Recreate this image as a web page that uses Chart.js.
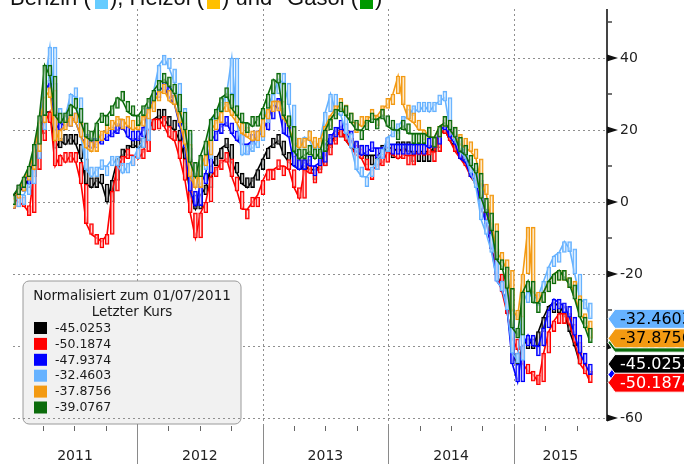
<!DOCTYPE html>
<html><head><meta charset="utf-8">
<script src="https://cdn.jsdelivr.net/npm/chart.js@4.4.1/dist/chart.umd.min.js"></script>
<style>html,body{margin:0;padding:0;background:#fff;overflow:hidden}canvas{display:block}</style>
</head><body>
<canvas id="c" width="684" height="464"></canvas>
<script>
// time axis: months since 1 Jan 2011, roughly every half month (Jan 2011 .. Aug 2015)
const N = 112;
const months = Array.from({length: N}, (_, k) => +(0.2 + k * 0.4965).toFixed(3));

// normalised series, two readings per month
const black = [2,3, 4,7, 12,19, 25,25, 15,17, 16,18, 16,12, 5,4, 6,5, 0,6, 12,13, 15,16,
 15,17, 20,23, 24,23, 21,20, 17,12, 2,-2, 2,4, 10,12, 15,16, 11,8, 5,4, 6,9,
 12,15, 16,17, 13,11, 10,9, 10,9, 9,10, 15,17, 18,20, 17,15, 14,13, 13,13, 13,14,
 15,15, 14,15, 14,14, 14,14, 14,15, 19,20, 17,15, 12,11, 7,5, -2,-5, -13,-20, -24,-30,
 -42,-45, -40,-38, -40,-36, -32,-29, -28,-29, -31,-36, -40,-45.0253];
const red = [1,0, -1,-3, 9,17, 22,25, 10,13, 11,13, 11,5, -6,-9, -10,-11, -9,3, 10,12, 13,13,
 12,14, 20,23, 23,21, 18,17, 12,6, -3,-10, -3,0, 7,9, 11,12, 7,3, -2,-2, 0,2,
 6,9, 9,10, 10,9, 4,1, 9,8, 8,10, 13,16, 18,20, 17,15, 13,12, 9,9, 10,11,
 14,13, 12,13, 13,13, 14,13, 14,14, 19,20, 17,14, 12,10, 7,5, -2,-5, -13,-20, -25,-31,
 -38,-41, -45,-47, -48,-50, -42,-36, -33,-31, -31,-34, -39,-45, -47,-50.1874];
const blue = [1,3, 5,9, 14,22, 31,33, 20,22, 21,24, 22,18, 16,15, 16,17, 18,19, 20,21, 18,17,
 18,20, 26,29, 31,32, 29,27, 21,15, 3,-1, 5,8, 17,19, 21,22, 19,17, 16,16, 17,18,
 20,23, 27,26, 19,18, 10,9, 11,10, 10,11, 16,18, 20,21, 19,17, 14,13, 14,15, 15,15,
 16,16, 16,16, 16,16, 16,16, 15,16, 20,21, 18,16, 12,11, 7,6, -2,-6, -13,-22, -24,-30,
 -45,-50, -40,-37, -40,-40, -35,-30, -27,-28, -29,-32, -37,-42, -45,-47.9374];
const lightBlue = [0,2, 2,5, 12,20, 33,43, 26,22, 24,30, 29,18, 9,7, 9,10, 10,12, 10,8, 10,12,
 15,17, 26,31, 38,40, 37,33, 26,19, 8,4, 9,12, 22,25, 27,30, 40,22, 13,14, 15,17,
 22,27, 30,34, 33,27, 17,15, 18,17, 14,17, 25,30, 25,24, 19,15, 9,7, 7,9, 12,14,
 18,19, 21,23, 24,26, 25,27, 25,27, 28,29, 20,17, 14,12, 8,4, -5,-9, -14,-22, -24,-30,
 -42,-44, -28,-25, -27,-26, -22,-18, -15,-14, -11,-13, -20,-27, -28,-32.4603];
const orange = [1,3, 6,9, 14,22, 29,31, 17,20, 21,24, 22,18, 15,14, 17,19, 20,21, 23,23, 21,20,
 21,23, 25,28, 30,31, 28,27, 22,16, 7,4, 10,13, 20,22, 25,27, 24,22, 19,18, 17,18,
 23,25, 28,28, 23,21, 16,15, 17,18, 15,17, 21,24, 26,27, 24,22, 22,21, 23,24, 24,26,
 27,30, 35,27, 23,22, 20,20, 18,18, 21,22, 20,18, 16,15, 14,12, 5,2, -6,-14, -16,-19,
 -30,-32, -20,-7, -25,-27, -25,-22, -20,-19, -21,-22, -26,-31, -33,-37.8756];
const green = [2,4, 7,10, 16,24, 38,35, 24,22, 24,27, 26,22, 18,17, 22,24, 24,26, 29,28, 25,24,
 24,26, 28,31, 33,34, 32,30, 25,20, 11,7, 13,17, 23,25, 29,30, 26,24, 22,22, 21,23,
 26,30, 34,33, 24,21, 14,12, 13,14, 12,14, 20,23, 25,26, 24,22, 20,20, 22,23, 23,24,
 21,20, 20,21, 19,19, 19,19, 18,18, 21,22, 20,18, 14,13, 10,8, 1,-3, -8,-16, -18,-24,
 -35,-37, -25,-22, -28,-28, -25,-22, -20,-19, -21,-23, -27,-32, -35,-39.0767];

// axis ticks / labels
const yMajor = [40, 20, 0, -20, -40, -60];
const yMinor = [50, 30, 10, -10, -30, -50];
const yearStarts = [12, 24, 36, 48];
const yearNames = ['2011', '2012', '2013', '2014', '2015'];
const quarterTicks = [3, 6, 9, 15, 18, 21, 27, 30, 33, 39, 42, 45, 51, 54];
const legendTitle = ['Normalisiert zum 01/07/2011', 'Letzter Kurs'];

const seriesDefs = [
  {values: black, color: '#000000', tagText: '#ffffff', order: 6},
  {values: red, color: '#ff0000', tagText: '#ffffff', order: 5},
  {values: blue, color: '#0000ff', tagText: '#ffffff', order: 4},
  {values: lightBlue, color: '#66b2ff', tagText: '#000000', order: 3},
  {values: orange, color: '#f39a12', tagText: '#000000', order: 2},
  {values: green, color: '#0b6b0b', tagText: '#ffffff', order: 1}
];

const barSets = seriesDefs.map(s => ({
  type: 'bar',
  label: s.values[s.values.length - 1].toFixed(4),
  data: s.values.map((v, i) => ({x: months[i], y: [i ? s.values[i - 1] : v, v]})),
  backgroundColor: 'rgba(255,255,255,0.45)',
  borderColor: s.color,
  borderWidth: 1.3,
  borderSkipped: false,
  barThickness: 4,
  maxBarThickness: 4,
  minBarLength: 10,
  grouped: false,
  order: s.order
}));
const lineSets = seriesDefs.map(s => ({
  type: 'line',
  label: '',
  data: s.values.map((v, i) => ({x: months[i], y: v})),
  borderColor: s.color,
  borderWidth: 1.6,
  pointRadius: 0,
  tension: 0,
  fill: false,
  order: s.order
}));

function line(ctx, x1, y1, x2, y2) { ctx.beginPath(); ctx.moveTo(x1, y1); ctx.lineTo(x2, y2); ctx.stroke(); }

const chrome = {
  id: 'chrome',
  beforeDatasetsDraw(chart) {
    const {ctx, chartArea: a, scales: {x, y}} = chart;
    ctx.save();
    ctx.strokeStyle = '#8f8f8f'; ctx.lineWidth = 1; ctx.setLineDash([2, 3]);
    yMajor.forEach(v => { const p = Math.round(y.getPixelForValue(v)) + 0.5; line(ctx, a.left, p, a.right, p); });
    yearStarts.forEach(m => { const p = Math.round(x.getPixelForValue(m)) + 0.5; line(ctx, p, a.top, p, a.bottom); });
    ctx.restore();
  },
  afterDraw(chart) {
    const {ctx, chartArea: a, scales: {x, y}} = chart;
    ctx.save();
    // legend box
    const lx = 23, ly = 281, lw = 218, lh = 143;
    ctx.beginPath(); ctx.roundRect(lx, ly, lw, lh, 6);
    ctx.fillStyle = '#f1f1f1'; ctx.fill();
    ctx.strokeStyle = '#9a9a9a'; ctx.lineWidth = 1; ctx.stroke();
    ctx.fillStyle = '#1a1a1a'; ctx.font = '13.5px "DejaVu Sans"'; ctx.textAlign = 'center'; ctx.textBaseline = 'middle';
    ctx.fillText(legendTitle[0], 132, 296);
    ctx.fillText(legendTitle[1], 132, 312);
    ctx.textAlign = 'left'; ctx.font = '12.5px "DejaVu Sans"';
    seriesDefs.forEach((s, i) => {
      const cy = 328 + i * 15.9;
      ctx.fillStyle = s.color; ctx.fillRect(34, cy - 6, 13, 12);
      ctx.fillStyle = '#1a1a1a'; ctx.fillText(barSets[i].label, 55, cy + 0.5);
    });
    // bottom gridline drawn over the legend
    ctx.strokeStyle = '#8f8f8f'; ctx.setLineDash([2, 3]);
    { const p = Math.round(y.getPixelForValue(-60)) + 0.5; line(ctx, a.left, p, a.right, p); }
    ctx.setLineDash([]);
    // right axis
    ctx.strokeStyle = '#444'; ctx.lineWidth = 2;
    line(ctx, a.right, a.top, a.right, a.bottom - 3);
    ctx.lineWidth = 1.5;
    yMinor.forEach(v => { const p = y.getPixelForValue(v); line(ctx, a.right, p, a.right + 5, p); });
    ctx.font = '14px "DejaVu Sans"'; ctx.textBaseline = 'middle'; ctx.textAlign = 'left';
    yMajor.forEach(v => {
      const p = y.getPixelForValue(v);
      ctx.fillStyle = '#111';
      ctx.beginPath(); ctx.moveTo(a.right, p - 3.5); ctx.lineTo(a.right + 11, p); ctx.lineTo(a.right, p + 3.5); ctx.closePath(); ctx.fill();
      ctx.fillStyle = '#222'; ctx.fillText(String(v), a.right + 13, p);
    });
    // bottom axis
    ctx.strokeStyle = '#666'; ctx.lineWidth = 1;
    quarterTicks.forEach(m => { const p = Math.round(x.getPixelForValue(m)) + 0.5; line(ctx, p, a.bottom + 2, p, a.bottom + 7); });
    ctx.strokeStyle = '#8a8a8a';
    yearStarts.forEach(m => { const p = Math.round(x.getPixelForValue(m)) + 0.5; line(ctx, p, a.bottom, p, 464); });
    const bounds = [a.left, ...yearStarts.map(m => x.getPixelForValue(m)), a.right];
    ctx.fillStyle = '#222'; ctx.font = '14px "DejaVu Sans"'; ctx.textAlign = 'center';
    yearNames.forEach((n, i) => ctx.fillText(n, (bounds[i] + bounds[i + 1]) / 2, 456));
    // last-value tags
    const tagOrder = [2, 5, 3, 4, 0, 1];
    ctx.font = '16px "DejaVu Sans"'; ctx.textAlign = 'left';
    tagOrder.forEach(i => {
      const s = seriesDefs[i], v = s.values[s.values.length - 1];
      const p = y.getPixelForValue(v), h = 9.5, x0 = a.right + 1;
      ctx.beginPath(); ctx.moveTo(x0, p); ctx.lineTo(x0 + 7, p - h); ctx.lineTo(700, p - h); ctx.lineTo(700, p + h); ctx.lineTo(x0 + 7, p + h); ctx.closePath();
      ctx.fillStyle = s.color; ctx.fill(); ctx.strokeStyle = '#ffffff'; ctx.lineWidth = 1; ctx.stroke();
      ctx.fillStyle = s.tagText; ctx.fillText(v.toFixed(4), a.right + 13, p + 1);
    });
    // cut-off title at top
    ctx.font = '22px "Liberation Sans"'; ctx.textBaseline = 'alphabetic'; ctx.fillStyle = '#111';
    ctx.textAlign = 'left';
    ctx.fillText('Benzin (', 10, 5);
    ctx.fillStyle = '#66ccff'; ctx.fillRect(95, -5, 13, 14);
    ctx.fillStyle = '#111'; ctx.fillText('), Heizöl (', 110, 5);
    ctx.fillStyle = '#ffc000'; ctx.fillRect(207, -5, 13, 14);
    ctx.fillStyle = '#111'; ctx.fillText(') und', 222, 5);
    ctx.textAlign = 'right'; ctx.fillText('Gasöl (', 358, 5);
    ctx.textAlign = 'left';
    ctx.fillStyle = '#009900'; ctx.fillRect(360, -5, 13, 14);
    ctx.fillStyle = '#111'; ctx.fillText(')', 375, 5);
    ctx.restore();
  }
};

new Chart(document.getElementById('c'), {
  data: {datasets: [...barSets, ...lineSets]},
  options: {
    responsive: false, animation: false, devicePixelRatio: 1,
    layout: {padding: {left: 13, top: 9, right: 0, bottom: 0}},
    plugins: {legend: {display: false}, tooltip: {enabled: false}},
    scales: {
      x: {type: 'linear', min: 0.15, max: 56.9, offset: false, grid: {display: false}, border: {display: false},
          ticks: {display: false}, afterFit(s) { s.height = 40; }},
      y: {position: 'right', min: -61.67, max: 53.61, grid: {display: false}, border: {display: false},
          ticks: {display: false}, afterFit(s) { s.width = 77; }}
    }
  },
  plugins: [chrome]
});
</script>
</body></html>
